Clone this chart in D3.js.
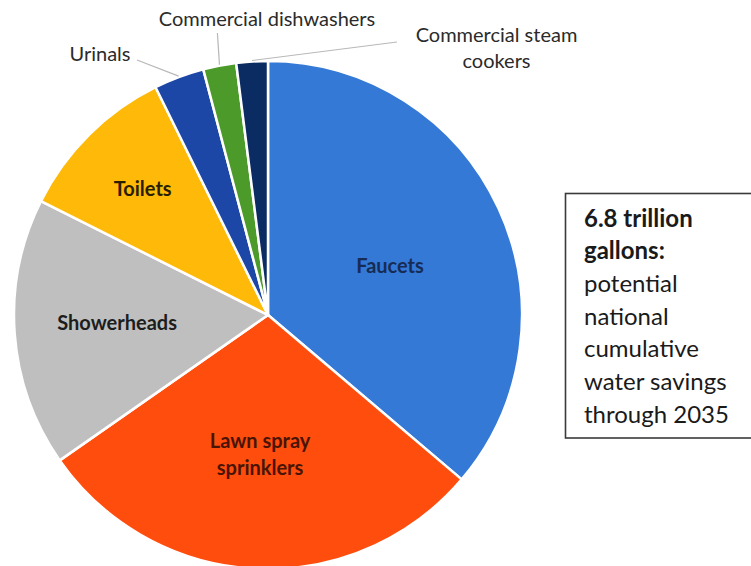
<!DOCTYPE html>
<html>
<head>
<meta charset="utf-8">
<script src="https://cdn.jsdelivr.net/npm/d3@7/dist/d3.min.js"></script>
<style>
  html, body { margin: 0; padding: 0; background: #fff; }
  svg { display: block; }
  text { font-family: Lato, "Open Sans", sans-serif; }
</style>
</head>
<body>
<svg id="chart" width="751" height="566"></svg>
<script>
// Potential water savings by product category (share of total, %)
const categories = ["Faucets", "Lawn spray sprinklers", "Showerheads", "Toilets",
                    "Urinals", "Commercial dishwashers", "Commercial steam cookers"];
const shares = [36.2, 29.1, 17.1, 10.3, 3.2, 2.1, 2.0];
const colors = ["#3479d6", "#ff4d0d", "#bfbfbf", "#ffb908", "#1d47a6", "#4b9a2a", "#0b2c62"];

// Callout text
const calloutBold = ["6.8 trillion", "gallons:"];
const calloutLines = ["potential", "national", "cumulative", "water savings", "through 2035"];

const cx = 268, cy = 315, R = 254;

const svg = d3.select("#chart");
const g = svg.append("g").attr("transform", `translate(${cx},${cy})`);

const data = categories.map((c, i) => ({ name: c, value: shares[i], color: colors[i] }));

const pie = d3.pie().value(d => d.value).sort(null);
const arcs = pie(data);
const arc = d3.arc().innerRadius(0).outerRadius(R);

g.selectAll("path.slice")
  .data(arcs)
  .join("path")
  .attr("class", "slice")
  .attr("d", arc)
  .attr("fill", d => d.data.color)
  .attr("stroke", "#fff")
  .attr("stroke-width", 2.5)
  .attr("stroke-linejoin", "round");

// Inside labels: radius as a fraction of R, small angular nudge (radians), text colour
const inside = {
  "Faucets":               { r: 0.518, shift: 0.05, lines: ["Faucets"], fill: "#172c55" },
  "Lawn spray sprinklers": { r: 0.55,  shift: 0.01, lines: ["Lawn spray", "sprinklers"], fill: "#4a1405" },
  "Showerheads":           { r: 0.595, shift: 0.02, lines: ["Showerheads"], fill: "#1d1d1d" },
  "Toilets":               { r: 0.70,  shift: 0.0,  lines: ["Toilets"], fill: "#2a1e00" }
};

arcs.forEach(a => {
  const cfg = inside[a.data.name];
  if (!cfg) return;
  const mid = (a.startAngle + a.endAngle) / 2 + cfg.shift;
  const x = Math.sin(mid) * R * cfg.r;
  const y = -Math.cos(mid) * R * cfg.r;
  const t = g.append("text")
    .attr("text-anchor", "middle")
    .attr("font-size", 20)
    .attr("font-weight", 700)
    .attr("fill", cfg.fill);
  const n = cfg.lines.length;
  cfg.lines.forEach((ln, i) => {
    t.append("tspan")
      .attr("x", x)
      .attr("y", y + (i - (n - 1) / 2) * 27 + 7)
      .text(ln);
  });
});

// Outside labels with leader lines (coordinates relative to the pie centre)
const outside = {
  "Urinals":                  { lx: -131, ly: -255, tx: -168,  ty: -254, lines: ["Urinals"] },
  "Commercial dishwashers":   { lx: null, ly: -282, tx: -1,    ty: -289, lines: ["Commercial dishwashers"] },
  "Commercial steam cookers": { lx: 129,  ly: -273, tx: 228.5, ty: -273, lines: ["Commercial steam", "cookers"] }
};

arcs.forEach(a => {
  const cfg = outside[a.data.name];
  if (!cfg) return;
  const mid = (a.startAngle + a.endAngle) / 2;
  const px = Math.sin(mid) * (R + 1);
  const py = -Math.cos(mid) * (R + 1);
  const pts = [[px, py], [cfg.lx === null ? px - 2 : cfg.lx, cfg.ly]];
  g.append("path")
    .attr("d", d3.line()(pts))
    .attr("fill", "none")
    .attr("stroke", "#b8b8b8")
    .attr("stroke-width", 1.2);
  const t = g.append("text")
    .attr("text-anchor", "middle")
    .attr("font-size", 20)
    .attr("fill", "#2b2b2b");
  cfg.lines.forEach((ln, i) => {
    t.append("tspan").attr("x", cfg.tx).attr("y", cfg.ty + i * 26).text(ln);
  });
});

// Callout box
const box = svg.append("g");
box.append("rect")
  .attr("x", 565.5).attr("y", 193.5)
  .attr("width", 200).attr("height", 244.5)
  .attr("fill", "#fff")
  .attr("stroke", "#3a3a3a")
  .attr("stroke-width", 1.6);

const lineH = 32.7;
const allLines = calloutBold.map(t => ({ t, b: true })).concat(calloutLines.map(t => ({ t, b: false })));
box.selectAll("text.callout")
  .data(allLines)
  .join("text")
  .attr("class", "callout")
  .attr("x", 584)
  .attr("y", (d, i) => 226.5 + i * lineH)
  .attr("font-size", 24)
  .attr("font-weight", d => d.b ? 700 : 400)
  .attr("fill", "#1a1a1a")
  .text(d => d.t);
</script>
</body>
</html>
